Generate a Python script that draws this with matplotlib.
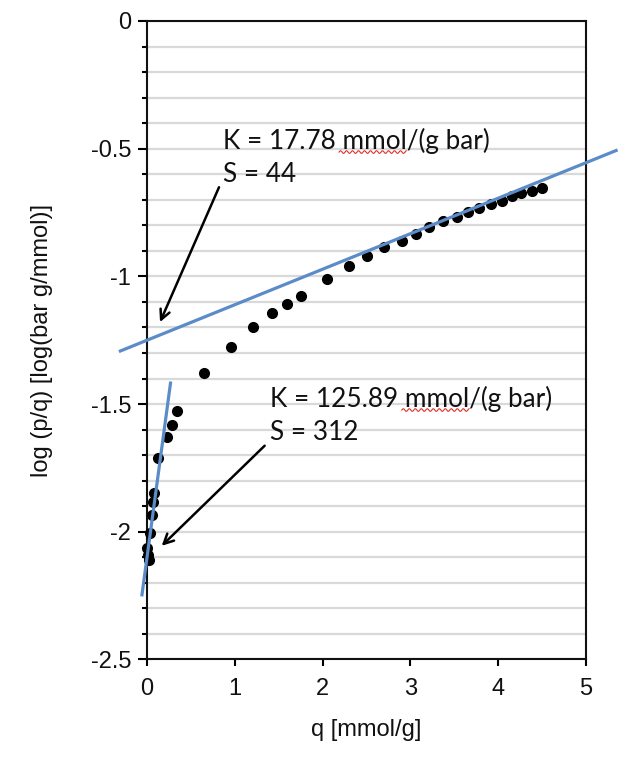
import numpy as np
import matplotlib
matplotlib.use("Agg")
import matplotlib.pyplot as plt
from matplotlib.ticker import MultipleLocator

# Adsorption data: q [mmol/g] vs log(p/q)
q = [0.003, 0.015, 0.026, 0.034, 0.054, 0.065, 0.080, 0.129, 0.224, 0.288,
     0.338, 0.65, 0.96, 1.21, 1.42, 1.59, 1.75, 2.05, 2.30, 2.51, 2.70, 2.90,
     3.06, 3.21, 3.37, 3.53, 3.66, 3.78, 3.92, 4.04, 4.16, 4.26, 4.38, 4.50]
log_pq = [-2.064, -2.090, -2.111, -2.005, -1.935, -1.885, -1.850, -1.713,
          -1.627, -1.582, -1.529, -1.380, -1.275, -1.200, -1.145, -1.110,
          -1.075, -1.012, -0.961, -0.922, -0.886, -0.863, -0.835, -0.808,
          -0.784, -0.769, -0.749, -0.733, -0.718, -0.706, -0.686, -0.675,
          -0.667, -0.655]

# Linear fits: log(p/q) = -log10(K) + slope * q
K_values = [17.78, 125.89]
S_values = [44, 312]
fit_slopes = [0.139, 2.55]
fit_ranges = [(-0.32, 5.36), (-0.06, 0.27)]

x_ticks = [0, 1, 2, 3, 4, 5]
y_ticks = [0, -0.5, -1, -1.5, -2, -2.5]
y_tick_labels = ["0", "-0.5", "-1", "-1.5", "-2", "-2.5"]

fig = plt.figure(figsize=(6.18, 7.57), dpi=100)
ax = fig.add_axes([0.2379, 0.1288, 0.7103, 0.8435])

ax.set_xlim(0, 5)
ax.set_ylim(-2.5, 0)

# horizontal grid every 0.1
ax.yaxis.set_minor_locator(MultipleLocator(0.1))
ax.set_yticks(y_ticks)
ax.set_yticklabels(y_tick_labels)
ax.set_xticks(x_ticks)
ax.grid(which="both", axis="y", color="#d9d9d9", linewidth=1.6, zorder=0)
ax.grid(False, axis="x")
ax.set_axisbelow(True)

for s in ax.spines.values():
    s.set_linewidth(1.5)
    s.set_color("#111111")

tick_family = ["Liberation Sans", "DejaVu Sans"]
tick_size = 17
ax.tick_params(axis="y", which="major", direction="out", length=6.5, width=1.5, pad=5)
ax.tick_params(axis="y", which="minor", direction="out", length=3.5, width=1.5)
ax.tick_params(axis="x", which="major", direction="out", length=5, width=1.5, pad=8)
for lbl in ax.get_xticklabels() + ax.get_yticklabels():
    lbl.set_fontfamily(tick_family)
    lbl.set_fontsize(tick_size)
    lbl.set_color("#111111")

ax.set_xlabel("q [mmol/g]", fontfamily=tick_family, fontsize=tick_size,
              labelpad=14, color="#111111")
ax.set_ylabel("log (p/q) [log(bar g/mmol)]", fontfamily=tick_family,
              fontsize=tick_size, labelpad=27, color="#111111")

# data points
ax.plot(q, log_pq, linestyle="none", marker="o", markersize=7,
        color="black", zorder=3, clip_on=False)

# fitted lines
blue = "#5b8cc8"
for K, slope, (x0, x1) in zip(K_values, fit_slopes, fit_ranges):
    xs = np.array([x0, x1])
    ys = -np.log10(K) + slope * xs
    ax.plot(xs, ys, color=blue, linewidth=2.3, zorder=4, clip_on=False,
            solid_capstyle="butt")

# annotations
ann_font = ["Lato", "DejaVu Sans"]
ann_size = 18.8
label_pos = [(0.86, -0.47), (1.40, -1.48)]
arrow_tail = [(0.82, -0.651), (1.34, -1.663)]
arrow_tip = [(0.148, -1.179), (0.167, -2.055)]
line_gap = 0.13

renderer = fig.canvas.get_renderer()
for K, S, (tx, ty), tail, tip in zip(K_values, S_values, label_pos, arrow_tail, arrow_tip):
    prefix = f"K = {K:.2f} "
    t1 = ax.text(tx, ty, f"{prefix}mmol/(g bar)", fontfamily=ann_font,
                 fontsize=ann_size, va="center", ha="left", color="#111111", zorder=5)
    ax.text(tx, ty - line_gap, f"S = {S}", fontfamily=ann_font,
            fontsize=ann_size, va="center", ha="left", color="#111111", zorder=5)
    ax.annotate("", xy=tip, xytext=tail,
                arrowprops=dict(arrowstyle="->,head_length=0.7,head_width=0.35",
                                color="black", linewidth=1.8,
                                shrinkA=0, shrinkB=0), zorder=5)

    # red wavy underline beneath "mmol"
    tmp_a = ax.text(tx, ty, prefix, fontfamily=ann_font, fontsize=ann_size,
                    va="center", ha="left", alpha=0)
    tmp_b = ax.text(tx, ty, prefix + "mmol", fontfamily=ann_font, fontsize=ann_size,
                    va="center", ha="left", alpha=0)
    ea = tmp_a.get_window_extent(renderer)
    eb = tmp_b.get_window_extent(renderer)
    et = t1.get_window_extent(renderer)
    tmp_a.remove()
    tmp_b.remove()
    x_start = ea.x1 - 3
    x_end = eb.x1
    y_base = et.y0 + 2
    px = np.linspace(x_start, x_end, 200)
    py = y_base + 1.3 * np.sin((px - x_start) / 3.0 * np.pi)
    pts = ax.transData.inverted().transform(np.column_stack([px, py]))
    ax.plot(pts[:, 0], pts[:, 1], color="#e0302a", linewidth=0.8, zorder=5)

fig.savefig("out.png", dpi=100)
